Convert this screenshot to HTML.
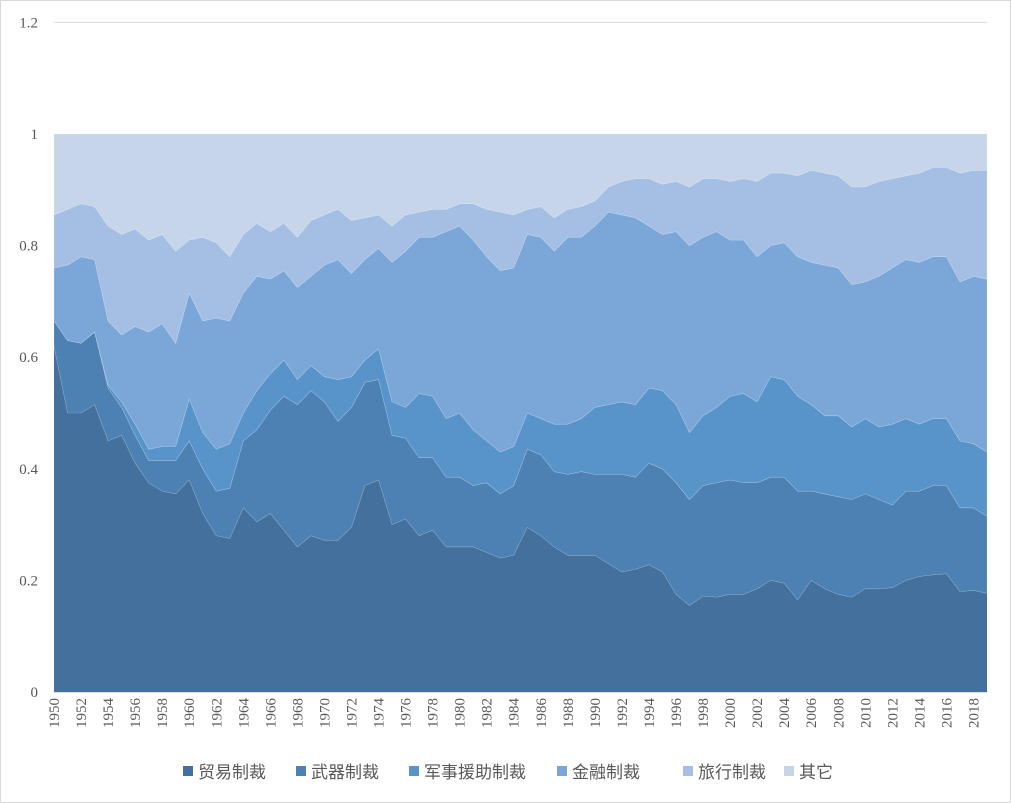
<!DOCTYPE html>
<html><head><meta charset="utf-8"><style>
body{margin:0;background:#fff;}
svg{display:block;font-family:"Liberation Serif","Noto Serif CJK SC","Noto Sans CJK SC",serif;}
</style></head><body>
<svg id="chart" width="1011" height="803" viewBox="0 0 1011 803">
<rect x="0.5" y="0.5" width="1010" height="802" fill="#fff" stroke="#d9d9d9"/>
<g id="plot"></g>
<g id="yaxis"></g>
<g id="xaxis"></g>
<g id="legend"></g>
</svg>
<script>
const years=[];for(let y=1950;y<=2019;y++)years.push(y);
const seriesNames=["贸易制裁","武器制裁","军事援助制裁","金融制裁","旅行制裁","其它"];
const trade=[.62,.50,.50,.515,.45,.46,.41,.375,.36,.355,.38,.32,.28,.275,.33,.305,.32,.29,.26,.28,.272,.272,.295,.37,.38,.30,.31,.28,.29,.26,.26,.26,.25,.24,.245,.295,.28,.26,.245,.245,.245,.23,.215,.22,.228,.215,.175,.155,.172,.17,.175,.175,.185,.20,.195,.165,.20,.185,.175,.17,.185,.185,.187,.20,.207,.21,.212,.18,.182,.177];
const weapons=[.045,.13,.125,.13,.095,.05,.05,.04,.055,.06,.07,.08,.08,.09,.12,.165,.185,.24,.255,.26,.248,.213,.215,.185,.18,.16,.145,.14,.13,.125,.125,.11,.125,.115,.125,.14,.145,.135,.145,.15,.145,.16,.175,.165,.182,.185,.2,.19,.198,.205,.205,.2,.19,.185,.19,.195,.16,.17,.175,.175,.17,.16,.148,.16,.153,.16,.158,.15,.148,.138];
const military=[0,0,0,0,.005,.01,.02,.02,.025,.025,.075,.065,.075,.08,.05,.07,.065,.065,.045,.045,.045,.075,.055,.04,.055,.06,.055,.115,.11,.105,.115,.1,.075,.075,.07,.065,.065,.085,.09,.095,.12,.125,.13,.13,.135,.14,.14,.12,.125,.135,.15,.16,.145,.18,.175,.17,.155,.14,.145,.13,.135,.13,.145,.13,.12,.12,.12,.12,.115,.115];
const finance=[.095,.135,.155,.13,.115,.12,.175,.21,.22,.185,.19,.2,.235,.22,.215,.205,.17,.16,.165,.16,.2,.215,.185,.18,.18,.25,.28,.28,.285,.335,.335,.34,.33,.325,.32,.32,.325,.31,.335,.325,.325,.345,.335,.335,.29,.28,.31,.335,.32,.315,.28,.275,.26,.235,.245,.25,.255,.27,.265,.255,.245,.27,.28,.285,.29,.29,.29,.285,.3,.31];
const travel=[.095,.1,.095,.095,.17,.18,.175,.165,.16,.165,.095,.15,.135,.115,.105,.095,.085,.085,.09,.1,.09,.09,.095,.075,.06,.065,.065,.045,.05,.04,.04,.065,.085,.105,.095,.045,.055,.06,.05,.055,.045,.045,.06,.07,.085,.09,.09,.105,.105,.095,.105,.11,.135,.13,.125,.145,.165,.165,.165,.175,.17,.17,.16,.15,.16,.16,.16,.195,.19,.195];
const other=years.map((_,i)=>1-trade[i]-weapons[i]-military[i]-finance[i]-travel[i]);
const yTicks=[0,0.2,0.4,0.6,0.8,1,1.2];
const yTickLabels=["0","0.2","0.4","0.6","0.8","1","1.2"];

const colors=["#44709d","#4d81b3","#5894c9","#7aa7d8","#a4bfe3","#c6d5ea"];
const X0=54,X1=987,Y0=692,Ypx=558;
const xs=i=>X0+(X1-X0)*i/(years.length-1);
const ys=v=>Y0-v*Ypx;
const NS="http://www.w3.org/2000/svg";
const plot=document.getElementById('plot');
const all=[trade,weapons,military,finance,travel,other];
let cum=years.map(()=>0);
all.forEach((s,k)=>{
  const low=cum.slice();
  cum=cum.map((c,i)=>c+s[i]);
  let d="";
  years.forEach((_,i)=>{d+=(i?"L":"M")+xs(i).toFixed(2)+","+ys(cum[i]).toFixed(2);});
  for(let i=years.length-1;i>=0;i--)d+="L"+xs(i).toFixed(2)+","+ys(low[i]).toFixed(2);
  d+="Z";
  const p=document.createElementNS(NS,"path");
  p.setAttribute('d',d);p.setAttribute('fill',colors[k]);
  if(k>0){p.setAttribute('stroke','rgba(255,255,255,0.25)');p.setAttribute('stroke-width','0.6');}
  
  
  plot.appendChild(p);
});
const ya=document.getElementById('yaxis');
const gl=document.createElementNS(NS,"line");
gl.setAttribute('x1',X0);gl.setAttribute('x2',X1);gl.setAttribute('y1',ys(1.2));gl.setAttribute('y2',ys(1.2));
gl.setAttribute('stroke','#d9d9d9');


ya.appendChild(gl);
yTicks.forEach((v,i)=>{
  const t=document.createElementNS(NS,"text");
  t.setAttribute('x',38);t.setAttribute('y',ys(v)+5);t.setAttribute('text-anchor','end');
  t.setAttribute('font-size','15');t.setAttribute('fill','#595959');
  t.textContent=yTickLabels[i];
  
  
  ya.appendChild(t);
});
const xa=document.getElementById('xaxis');
const al=document.createElementNS(NS,"line");
al.setAttribute('x1',X0);al.setAttribute('x2',X1);al.setAttribute('y1',Y0+0.5);al.setAttribute('y2',Y0+0.5);
al.setAttribute('stroke','#d9d9d9');


xa.appendChild(al);
years.forEach((y,i)=>{
  if(i%2)return;
  const t=document.createElementNS(NS,"text");
  const x=xs(i)+5,yy=698;
  t.setAttribute('transform','translate('+x+','+yy+') rotate(-90)');
  t.setAttribute('text-anchor','end');t.setAttribute('font-size','15');t.setAttribute('fill','#595959');
  t.textContent=y;
  
  
  xa.appendChild(t);
});
const lg=document.getElementById('legend');
const lx=[183,296,409,557,683,784];
seriesNames.forEach((n,k)=>{
  const g=document.createElementNS(NS,"g");
  
  
  const r=document.createElementNS(NS,"rect");
  r.setAttribute('x',lx[k]);r.setAttribute('y',766);r.setAttribute('width',10);r.setAttribute('height',10);r.setAttribute('fill',colors[k]);
  const t=document.createElementNS(NS,"text");
  t.setAttribute('x',lx[k]+15);t.setAttribute('y',778);t.setAttribute('font-size','17');t.setAttribute('fill','#595959');
  t.setAttribute('font-family','"Noto Sans CJK SC",sans-serif');
  t.textContent=n;
  g.appendChild(r);g.appendChild(t);lg.appendChild(g);
});
</script>
</body></html>
